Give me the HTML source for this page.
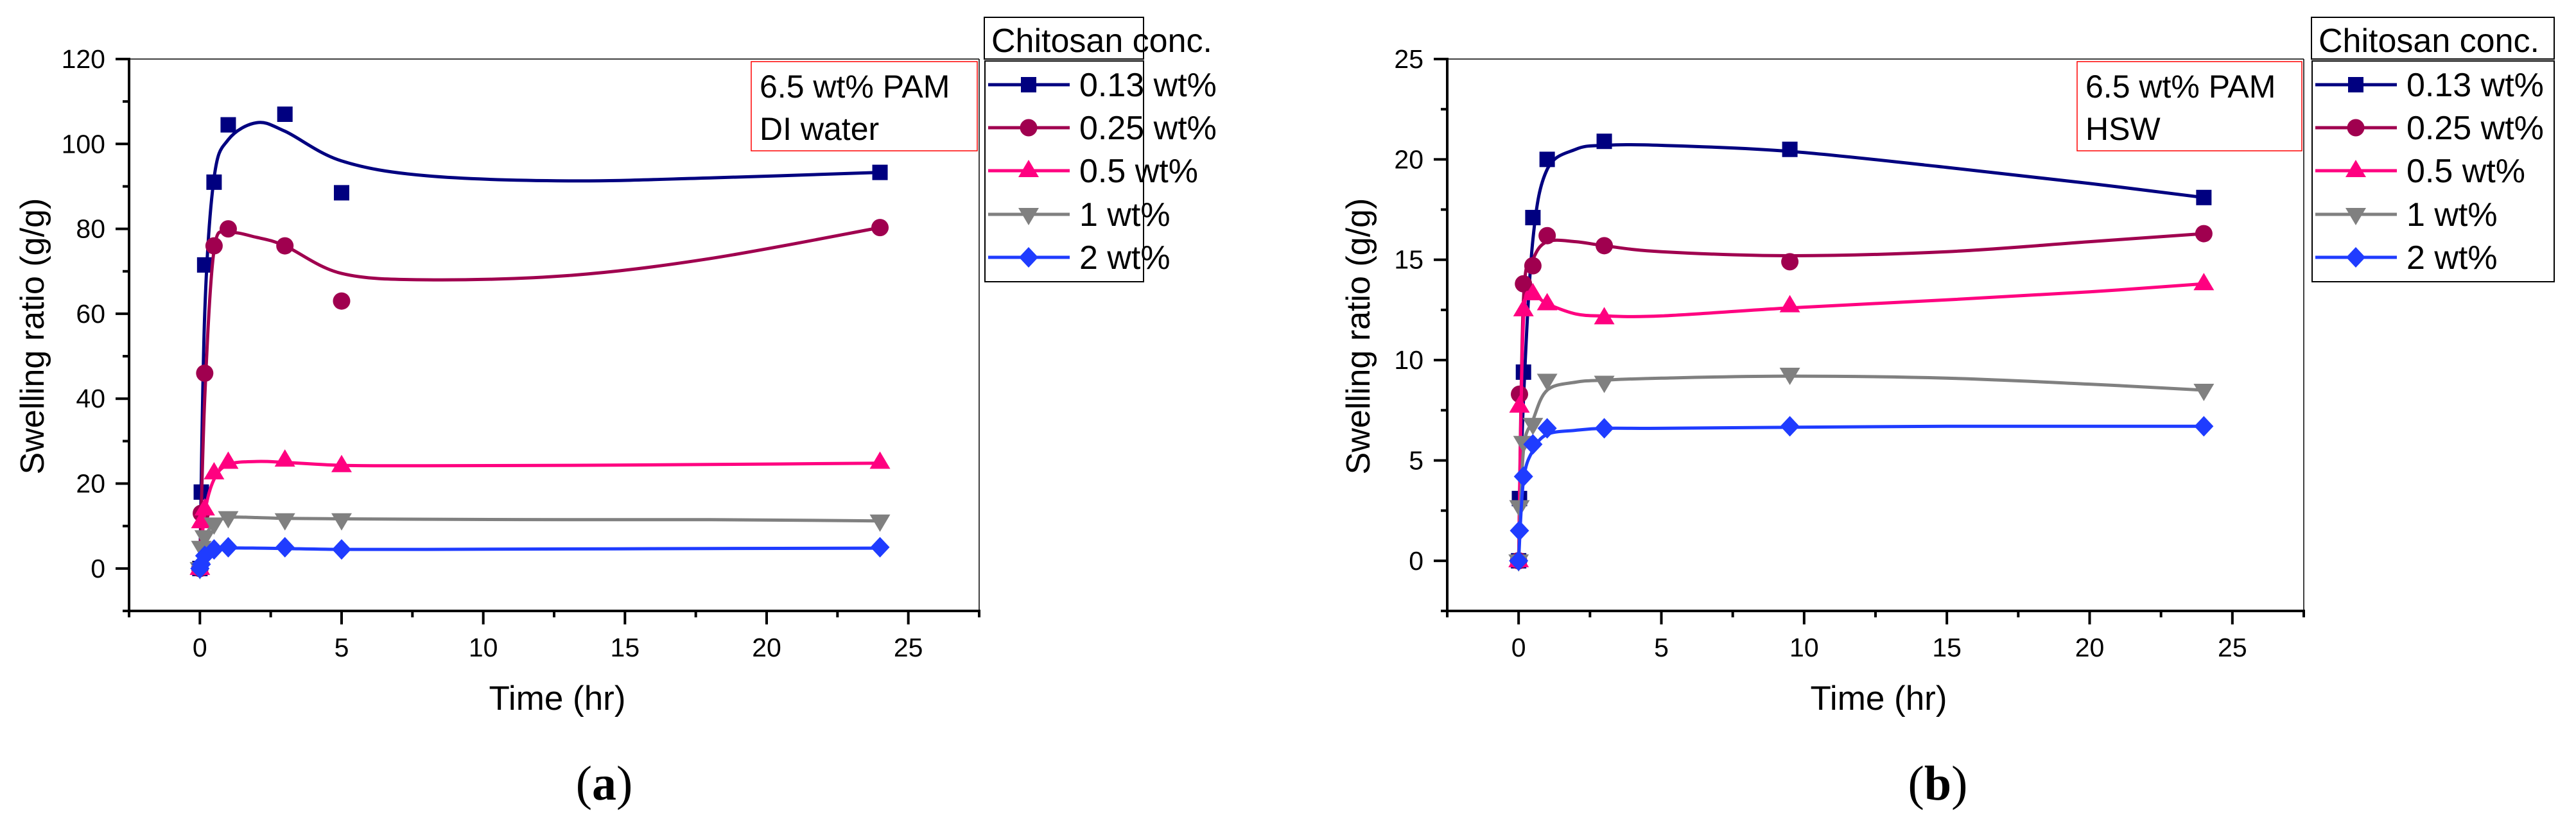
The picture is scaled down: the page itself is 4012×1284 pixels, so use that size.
<!DOCTYPE html>
<html><head><meta charset="utf-8"><style>
html,body{margin:0;padding:0;background:#fff;}
svg{display:block;font-family:"Liberation Sans",sans-serif;}
</style></head><body>
<svg id="fig" width="4012" height="1284" viewBox="0 0 4012 1284" xmlns="http://www.w3.org/2000/svg"></svg>
<script>
// ---- Data ----
const seriesNames = ["0.13 wt%", "0.25 wt%", "0.5 wt%", "1 wt%", "2 wt%"];
const seriesColors = ["#000080", "#a0004f", "#ff0080", "#808080", "#1f3cff"];
const seriesMarkers = ["square", "circle", "up", "down", "diamond"];

const timesA = [0, 0.05, 0.17, 0.5, 1, 3, 5, 24];
const a013 = [0, 18, 71.5, 91, 104.5, 107, 88.5, 93.3];
const a025 = [0, 13, 46, 76, 80, 76, 63, 80.3];
const a05 = [0, 11, 14, 22.5, 25, 25.5, 24.2, 25];
const a1 = [0, 5, 7.5, 10.5, 12, 11.5, 11.5, 11.2];
const a2 = [0, 1, 3, 4.5, 5, 5, 4.5, 5];
const fitTA = [0, 0.17, 0.5, 1, 2, 3, 5, 8, 13, 18, 24];
const fitA013 = [0, 60, 92, 101, 105, 103, 96, 92.5, 91.3, 92, 93.3];
const fitA025 = [0, 40, 75, 79, 78, 76, 69.5, 68, 69, 73, 80.3];
const fitA05 = [0, 13, 21, 24.5, 25.2, 25, 24.3, 24.2, 24.3, 24.5, 24.8];
const fitA1 = [0, 7, 10.5, 12, 12, 11.8, 11.7, 11.6, 11.5, 11.5, 11.2];
const fitA2 = [0, 3, 4.5, 4.8, 4.8, 4.7, 4.5, 4.5, 4.6, 4.7, 4.8];

const timesB = [0, 0.03, 0.17, 0.5, 1, 3, 9.5, 24];
const b013 = [0, 3.1, 9.4, 17.1, 20, 20.9, 20.5, 18.1];
const b025 = [0, 8.3, 13.8, 14.7, 16.2, 15.7, 14.9, 16.3];
const b05 = [0, 7.7, 12.5, 13.3, 12.8, 12.1, 12.7, 13.8];
const b1 = [0, 2.7, 5.9, 6.8, 9, 8.9, 9.3, 8.5];
const b2 = [0, 1.5, 4.2, 5.8, 6.6, 6.6, 6.7, 6.7];
const fitTB = [0, 0.17, 0.5, 1, 2, 3, 5, 9.5, 15, 20, 24];
const fitB013 = [0, 8, 16, 19.5, 20.5, 20.7, 20.7, 20.4, 19.6, 18.8, 18.1];
const fitB025 = [0, 13, 15, 15.9, 15.9, 15.7, 15.4, 15.2, 15.4, 15.9, 16.3];
const fitB05 = [0, 12, 13.2, 12.8, 12.3, 12.2, 12.2, 12.6, 13.0, 13.4, 13.8];
const fitB1 = [0, 5.5, 7, 8.5, 8.9, 9, 9.1, 9.2, 9.1, 8.8, 8.5];
const fitB2 = [0, 4, 5.5, 6.3, 6.5, 6.6, 6.6, 6.65, 6.7, 6.7, 6.7];

const xTicks = [0, 5, 10, 15, 20, 25];
const yTicksA = [0, 20, 40, 60, 80, 100, 120];
const yTicksB = [0, 5, 10, 15, 20, 25];

const NS = "http://www.w3.org/2000/svg";
const svg = document.getElementById("fig");
function mk(tag, attrs, parent) {
  const e = document.createElementNS(NS, tag);
  for (const k in attrs) e.setAttribute(k, attrs[k]);
  (parent || svg).appendChild(e);
  return e;
}
function txt(parent, x, y, s, size, anchor, extra) {
  const t = mk("text", Object.assign({x: x, y: y, "font-size": size, "text-anchor": anchor || "start", fill: "#000"}, extra || {}), parent);
  t.textContent = s;
  return t;
}
function marker(g, type, cx, cy, color) {
  let m;
  if (type === "square") m = mk("rect", {x: cx - 12, y: cy - 12, width: 24, height: 24, fill: color}, g);
  else if (type === "circle") m = mk("circle", {cx: cx, cy: cy, r: 13.5, fill: color}, g);
  else if (type === "up") m = mk("polygon", {points: `${cx},${cy - 17} ${cx - 16},${cy + 10} ${cx + 16},${cy + 10}`, fill: color}, g);
  else if (type === "down") m = mk("polygon", {points: `${cx},${cy + 17} ${cx - 16},${cy - 10} ${cx + 16},${cy - 10}`, fill: color}, g);
  else m = mk("polygon", {points: `${cx},${cy - 16} ${cx + 15},${cy} ${cx},${cy + 16} ${cx - 15},${cy}`, fill: color}, g);
  return m;
}
function smoothPath(pts) {
  let d = `M${pts[0][0]},${pts[0][1]}`;
  for (let i = 0; i < pts.length - 1; i++) {
    const p0 = pts[Math.max(0, i - 1)], p1 = pts[i], p2 = pts[i + 1], p3 = pts[Math.min(pts.length - 1, i + 2)];
    const c1x = p1[0] + (p2[0] - p0[0]) / 6, c1y = p1[1] + (p2[1] - p0[1]) / 6;
    const c2x = p2[0] - (p3[0] - p1[0]) / 6, c2y = p2[1] - (p3[1] - p1[1]) / 6;
    d += ` C${c1x},${c1y} ${c2x},${c2y} ${p2[0]},${p2[1]}`;
  }
  return d;
}

function drawChart(cfg) {
  const g = mk("g", {});
  
  
  const {L, R, T, B, xmin, xmax, ymin, ymax} = cfg;
  const X = v => L + (v - xmin) / (xmax - xmin) * (R - L);
  const Y = v => B - (v - ymin) / (ymax - ymin) * (B - T);
  // frame thin
  mk("line", {x1: L, y1: T, x2: R, y2: T, stroke: "#000", "stroke-width": 1.5}, g);
  mk("line", {x1: R, y1: T, x2: R, y2: B, stroke: "#000", "stroke-width": 1.5}, g);
  // axes
  const ax = mk("g", {}, g);
  
  
  mk("line", {x1: L, y1: T - 2, x2: L, y2: B + 10, stroke: "#000", "stroke-width": 4}, ax);
  const bx = mk("g", {}, g);
  
  
  mk("line", {x1: L - 10, y1: B, x2: R + 2, y2: B, stroke: "#000", "stroke-width": 4}, bx);
  // y ticks
  const yt = cfg.yTicks, ystep = yt[1] - yt[0];
  for (let v = ymin; v <= ymax + 1e-9; v += ystep / 2) {
    const major = yt.some(t => Math.abs(t - v) < 1e-9);
    mk("line", {x1: L - (major ? 21 : 10), y1: Y(v), x2: L, y2: Y(v), stroke: "#000", "stroke-width": 4}, ax);
  }
  yt.forEach(v => {
    const t = txt(ax, L - 37, Y(v) + 14, String(v), 41, "end");
    
    
  });
  for (let v = xmin; v <= xmax + 1e-9; v += 2.5) {
    const major = xTicks.some(t => Math.abs(t - v) < 1e-9);
    mk("line", {x1: X(v), y1: B, x2: X(v), y2: B + (major ? 21 : 10), stroke: "#000", "stroke-width": 4}, bx);
  }
  xTicks.forEach(v => {
    const t = txt(bx, X(v), B + 71, String(v), 41, "middle");
    
    
  });
  const xt = txt(g, (L + R) / 2 + 5, 1106, "Time (hr)", 53, "middle");
  
  
  const yT = txt(g, 0, 0, "Swelling ratio (g/g)", 52, "middle", {transform: `translate(${cfg.ytX},${cfg.ytY}) rotate(-90)`});
  
  
  // series
  cfg.series.forEach((s, i) => {
    const sg = mk("g", {}, g);
    
    
    const pts = cfg.fitT.map((t, j) => [X(t), Y(s.fit[j])]);
    const p = mk("path", {d: smoothPath(pts), fill: "none", stroke: seriesColors[i], "stroke-width": 5}, sg);
    
    
    cfg.times.forEach((t, j) => {
      const m = marker(sg, seriesMarkers[i], X(t), Y(s.pts[j]), seriesColors[i]);
      
      
    });
  });
  // annotation
  const an = mk("g", {}, g);
  
  
  mk("rect", {x: cfg.annX, y: 96, width: cfg.annW, height: 139, fill: "#fff", stroke: "#ff0000", "stroke-width": 1.5}, an);
  txt(an, cfg.annX + 13, 152, "6.5 wt% PAM", 50);
  txt(an, cfg.annX + 13, 218, cfg.annLine2, 50);
  // legend
  const lg = mk("g", {}, g);
  
  
  const lx = cfg.legX;
  mk("rect", {x: lx, y: 27, width: cfg.legW, height: 65, fill: "#fff", stroke: "#000", "stroke-width": 2}, lg);
  const lt = txt(lg, lx + 11, 81, "Chitosan conc.", 52);
  
  
  mk("rect", {x: lx + 1, y: 95, width: cfg.legW - 1, height: 344, fill: "#fff", stroke: "#000", "stroke-width": 2}, lg);
  const ly = [132, 199, 266, 334, 401];
  seriesNames.forEach((n, i) => {
    const e = mk("g", {}, lg);
    
    
    mk("line", {x1: lx + 6, y1: ly[i], x2: lx + 133, y2: ly[i], stroke: seriesColors[i], "stroke-width": 5}, e);
    marker(e, seriesMarkers[i], lx + 69, ly[i], seriesColors[i]);
    txt(e, lx + 148, ly[i] + 18, n, 52);
  });
  // panel label
  const pl = mk("text", {x: cfg.labX, y: 1246, "font-size": 76, "text-anchor": "middle", "font-family": "Liberation Serif, serif", fill: "#000"}, g);
  
  
  pl.innerHTML = '(<tspan font-weight="bold">' + cfg.lab + '</tspan>)';
}

drawChart({
  name: "chart-a-di-water", L: 201, R: 1525, T: 92, B: 952, xmin: -2.5, xmax: 27.5, ymin: -10, ymax: 120,
  yTicks: yTicksA, times: timesA, fitT: fitTA, ytX: 68, ytY: 524,
  series: [{pts: a013, fit: fitA013}, {pts: a025, fit: fitA025}, {pts: a05, fit: fitA05}, {pts: a1, fit: fitA1}, {pts: a2, fit: fitA2}],
  annX: 1170, annW: 352, annLine2: "DI water", legX: 1533, legW: 248, lab: "a", labX: 941
});
drawChart({
  name: "chart-b-hsw", L: 2254, R: 3588, T: 92, B: 952, xmin: -2.5, xmax: 27.5, ymin: -2.5, ymax: 25,
  yTicks: yTicksB, times: timesB, fitT: fitTB, ytX: 2133, ytY: 524,
  series: [{pts: b013, fit: fitB013}, {pts: b025, fit: fitB025}, {pts: b05, fit: fitB05}, {pts: b1, fit: fitB1}, {pts: b2, fit: fitB2}],
  annX: 3235, annW: 350, annLine2: "HSW", legX: 3600, legW: 378, lab: "b", labX: 3018
});
</script>
</body></html>
